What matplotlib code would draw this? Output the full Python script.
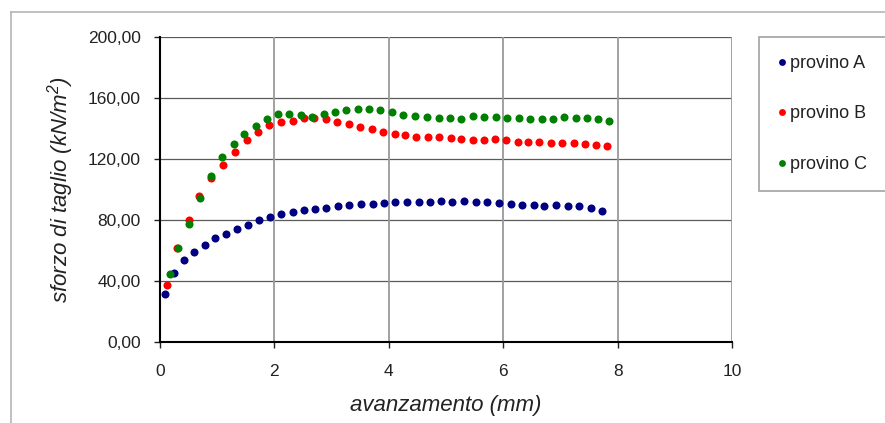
import numpy as np
import matplotlib
matplotlib.use('Agg')
import matplotlib.pyplot as plt
from matplotlib.lines import Line2D

plt.rcParams['font.family'] = ['Liberation Sans', 'DejaVu Sans']
plt.rcParams['mathtext.fontset'] = 'custom'
plt.rcParams['mathtext.rm'] = 'Liberation Sans:italic'
plt.rcParams['mathtext.it'] = 'Liberation Sans:italic'

# avanzamento (mm) / sforzo di taglio (kN/m2) per provino
x_A = [0.09, 0.25, 0.42, 0.60, 0.79, 0.97, 1.16, 1.34, 1.54, 1.73,
       1.92, 2.12, 2.32, 2.52, 2.71, 2.91, 3.11, 3.31, 3.51, 3.72,
       3.92, 4.11, 4.31, 4.52, 4.72, 4.91, 5.11, 5.32, 5.52, 5.72,
       5.92, 6.13, 6.33, 6.53, 6.72, 6.92, 7.13, 7.33, 7.53, 7.73]
y_A = [31.3, 45.0, 53.8, 59.2, 63.6, 68.0, 71.0, 73.9, 76.7, 79.8,
       82.0, 83.7, 85.0, 86.4, 87.4, 88.1, 89.2, 89.8, 90.3, 90.5,
       91.1, 91.6, 92.0, 92.0, 92.0, 92.7, 92.0, 92.5, 92.0, 91.8,
       91.1, 90.3, 89.8, 89.8, 89.4, 89.8, 89.2, 89.2, 88.1, 86.1]

x_B = [0.13, 0.30, 0.50, 0.69, 0.89, 1.11, 1.31, 1.52, 1.72, 1.91,
       2.11, 2.32, 2.52, 2.70, 2.90, 3.10, 3.30, 3.50, 3.70, 3.90,
       4.10, 4.28, 4.48, 4.68, 4.88, 5.08, 5.26, 5.47, 5.66, 5.86,
       6.05, 6.25, 6.44, 6.63, 6.84, 7.03, 7.24, 7.43, 7.62, 7.82]
y_B = [37.6, 61.4, 80.2, 95.7, 107.3, 115.9, 124.6, 132.2, 137.9, 142.3,
       144.5, 144.9, 147.1, 146.7, 146.2, 144.1, 142.8, 141.2, 139.5, 137.9,
       136.6, 136.0, 134.6, 134.2, 134.2, 134.0, 132.9, 132.5, 132.5, 133.3,
       132.2, 130.9, 131.4, 131.1, 130.7, 130.3, 130.3, 129.8, 129.2, 128.7]

x_C = [0.17, 0.32, 0.51, 0.70, 0.89, 1.09, 1.29, 1.47, 1.67, 1.87,
       2.06, 2.26, 2.46, 2.66, 2.86, 3.06, 3.26, 3.46, 3.65, 3.85,
       4.06, 4.25, 4.46, 4.66, 4.87, 5.07, 5.26, 5.47, 5.67, 5.87,
       6.06, 6.27, 6.47, 6.67, 6.87, 7.06, 7.27, 7.46, 7.66, 7.85]
y_C = [44.4, 61.4, 77.4, 94.6, 108.6, 121.1, 130.1, 136.6, 141.8, 146.2,
       149.5, 149.5, 148.9, 147.8, 149.3, 151.0, 152.1, 152.8, 152.8, 152.1,
       150.6, 149.1, 148.2, 147.3, 146.7, 146.7, 146.2, 148.0, 147.8, 147.8,
       147.2, 147.1, 146.2, 146.0, 146.2, 147.5, 147.1, 146.7, 146.2, 145.1]

labels = ['provino A', 'provino B', 'provino C']
colors = ['#000080', '#ff0000', '#008000']

x_ticks = [0, 2, 4, 6, 8, 10]
y_ticks = [0, 40, 80, 120, 160, 200]

fig = plt.figure(figsize=(8.85, 4.23), dpi=100)
ax = fig.add_axes([160 / 885, 81 / 423, 572 / 885, 305 / 423])

for xs, ys, lab, c in zip([x_A, x_B, x_C], [y_A, y_B, y_C], labels, colors):
    ax.plot(xs, ys, 'o', color=c, ms=5.8, mew=0, label=lab, clip_on=False, zorder=3)

ax.set_xlim(0, 10)
ax.set_ylim(0, 200)
ax.set_xticks(x_ticks)
ax.set_yticks(y_ticks)
ax.set_yticklabels(['{:.2f}'.format(v).replace('.', ',') for v in y_ticks])

for y in y_ticks[1:]:
    ax.axhline(y, color='#5a5a5a', lw=0.9, zorder=1)
for x in x_ticks[1:]:
    ax.axvline(x, color='#9a9a9a', lw=1.3, zorder=1)

for side in ['top', 'right']:
    ax.spines[side].set_visible(False)
for side in ['left', 'bottom']:
    ax.spines[side].set_linewidth(1.5)
    ax.spines[side].set_color('black')

ax.tick_params(axis='both', direction='out', length=4, width=1, labelsize=12.5, colors='#222222')
ax.tick_params(axis='x', pad=12)
ax.tick_params(axis='y', pad=10)

ax.set_xlabel('avanzamento (mm)', fontsize=16, style='italic', labelpad=11, color='#222222')
ax.set_ylabel('sforzo di taglio (kN/m$^{2}$)', fontsize=16, style='italic', labelpad=8, color='#222222')

# outer chart border (only top and left visible)
fig.add_artist(Line2D([11 / 885, 11 / 885], [0, 1 - 12 / 423], color='#b5b5b5', lw=1.2))
fig.add_artist(Line2D([11 / 885, 1], [1 - 12 / 423, 1 - 12 / 423], color='#b5b5b5', lw=1.2))

leg = fig.legend(loc='upper left', bbox_to_anchor=(759 / 885, 0.0, 160 / 885, 1 - 37 / 423),
                 mode='expand', fontsize=13, frameon=True, fancybox=False,
                 edgecolor='#8a8a8a', borderpad=1.0, labelspacing=1.85,
                 handlelength=0.6, handletextpad=0.1, markerscale=0.85, borderaxespad=0)
leg.get_frame().set_linewidth(1.2)
for t in leg.get_texts():
    t.set_color('#222222')

fig.savefig('out.png', dpi=100)
